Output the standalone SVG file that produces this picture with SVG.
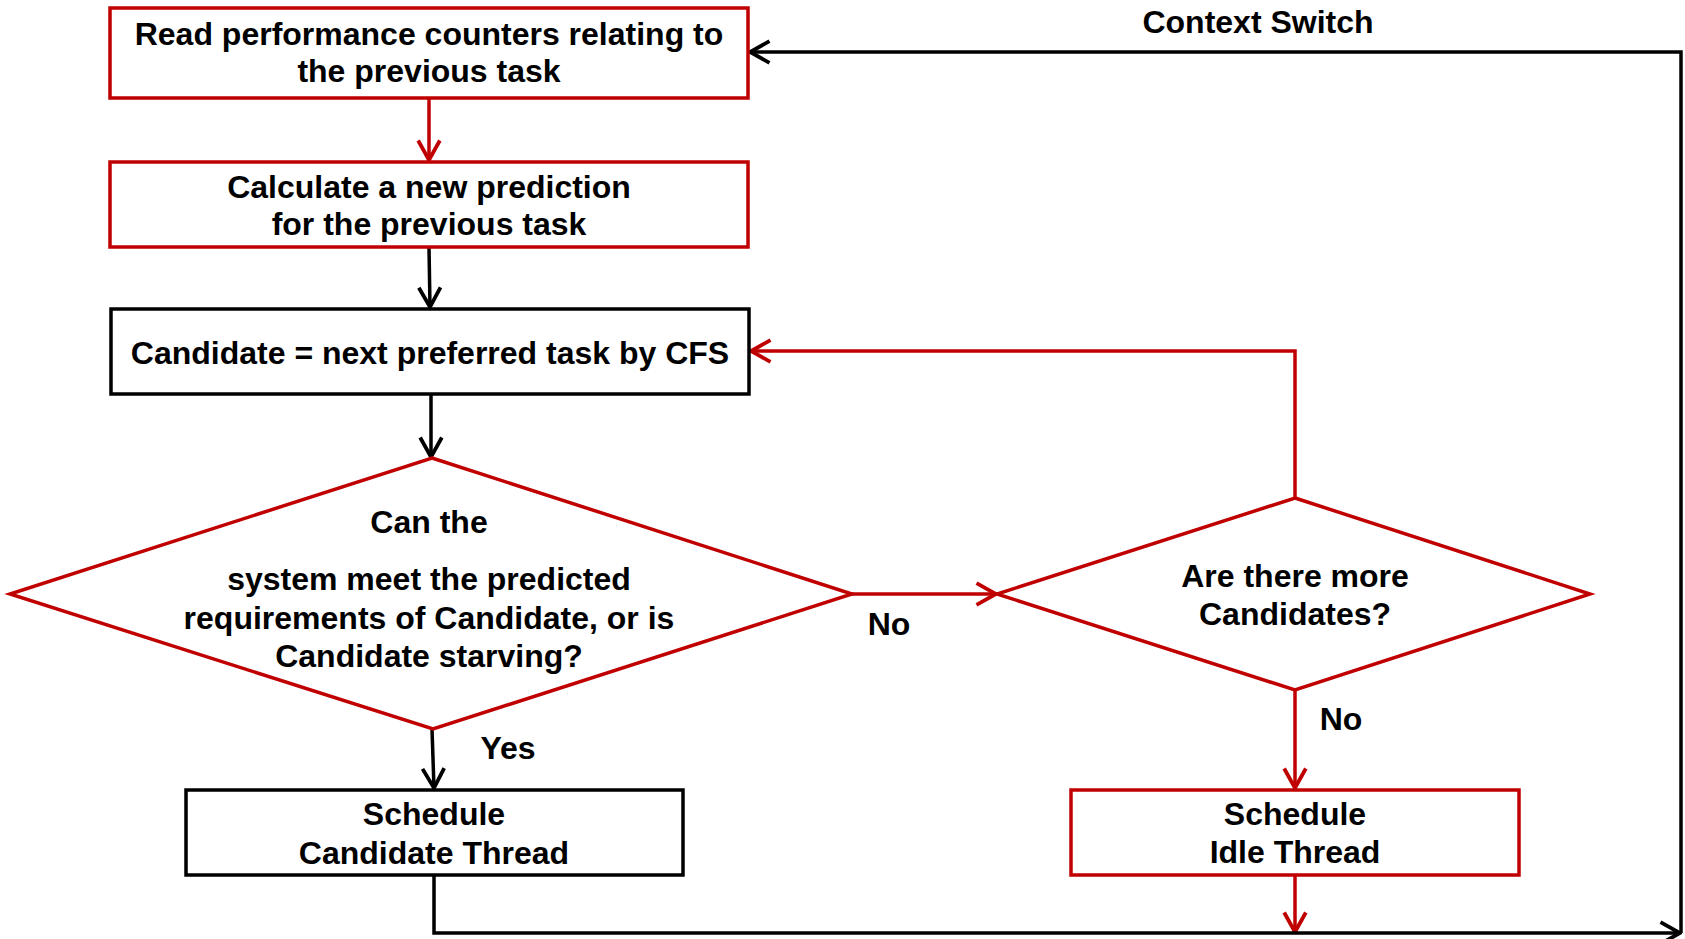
<svg xmlns="http://www.w3.org/2000/svg" width="1685" height="939" viewBox="0 0 1685 939">
  <style>
    text { font-family: "Liberation Sans", Arial, sans-serif; font-weight: bold; font-size: 32px; fill: #000; text-anchor: middle; }
    .red { fill: #fff; stroke: #C00000; stroke-width: 3.5; }
    .blk { fill: #fff; stroke: #000; stroke-width: 3.5; }
    .lr { fill: none; stroke: #C00000; stroke-width: 3.5; }
    .lb { fill: none; stroke: #000; stroke-width: 3.5; }
  </style>
  <defs>
    <marker id="ahR" markerUnits="userSpaceOnUse" markerWidth="24" markerHeight="26" viewBox="-20 -12 22 24" refX="0" refY="0" orient="auto">
      <path d="M -18 -10 L 0 0 L -18 10" fill="none" stroke="#C00000" stroke-width="3.5"/>
    </marker>
    <marker id="ahB" markerUnits="userSpaceOnUse" markerWidth="24" markerHeight="26" viewBox="-20 -12 22 24" refX="0" refY="0" orient="auto">
      <path d="M -18 -10 L 0 0 L -18 10" fill="none" stroke="#000" stroke-width="3.5"/>
    </marker>
  </defs>
  <rect width="1685" height="939" fill="#fff"/>

  <!-- connectors and their labels -->
  <g id="connectors">
    <path class="lr" d="M 429 98 L 429 160" marker-end="url(#ahR)"/>
    <path class="lb" d="M 429 247 L 430 307" marker-end="url(#ahB)"/>
    <path class="lb" d="M 431 394 L 431 457" marker-end="url(#ahB)"/>
    <path class="lr" d="M 852 594 L 996 594" marker-end="url(#ahR)"/>
    <path class="lr" d="M 1295 498 L 1295 351 L 751 351" marker-end="url(#ahR)"/>
    <path class="lr" d="M 1295 690 L 1295 788" marker-end="url(#ahR)"/>
    <path class="lb" d="M 432 729 L 434 788" marker-end="url(#ahB)"/>
    <path class="lr" d="M 1295 875 L 1295 932" marker-end="url(#ahR)"/>
    <path class="lb" d="M 434 875 L 434 933 L 1680 933" marker-end="url(#ahB)"/>
    <path class="lb" d="M 1681 933 L 1681 52 L 750 52" marker-end="url(#ahB)"/>
    <text x="1258" y="33">Context Switch</text>
    <text x="889" y="635">No</text>
    <text x="1341" y="730">No</text>
    <text x="508" y="759">Yes</text>
  </g>

  <g id="read-counters">
    <rect class="red" x="110" y="8" width="638" height="90"/>
    <text x="429" y="45">Read performance counters relating to</text>
    <text x="429" y="82">the previous task</text>
  </g>

  <g id="calc-prediction">
    <rect class="red" x="110" y="162" width="638" height="85"/>
    <text x="429" y="198">Calculate a new prediction</text>
    <text x="429" y="235">for the previous task</text>
  </g>

  <g id="next-candidate">
    <rect class="blk" x="111" y="309" width="638" height="85"/>
    <text x="430" y="364">Candidate = next preferred task by CFS</text>
  </g>

  <g id="can-meet">
    <polygon class="red" points="432,458 852,594 433,729 10,594"/>
    <text x="429" y="533">Can the</text>
    <text x="429" y="590">system meet the predicted</text>
    <text x="429" y="629">requirements of Candidate, or is</text>
    <text x="429" y="667">Candidate starving?</text>
  </g>

  <g id="more-candidates">
    <polygon class="red" points="1295,498 1590,594 1295,690 997,594"/>
    <text x="1295" y="587">Are there more</text>
    <text x="1295" y="625">Candidates?</text>
  </g>

  <g id="schedule-candidate">
    <rect class="blk" x="186" y="790" width="497" height="85"/>
    <text x="434" y="825">Schedule</text>
    <text x="434" y="864">Candidate Thread</text>
  </g>

  <g id="schedule-idle">
    <rect class="red" x="1071" y="790" width="448" height="85"/>
    <text x="1295" y="825">Schedule</text>
    <text x="1295" y="863">Idle Thread</text>
  </g>
</svg>
